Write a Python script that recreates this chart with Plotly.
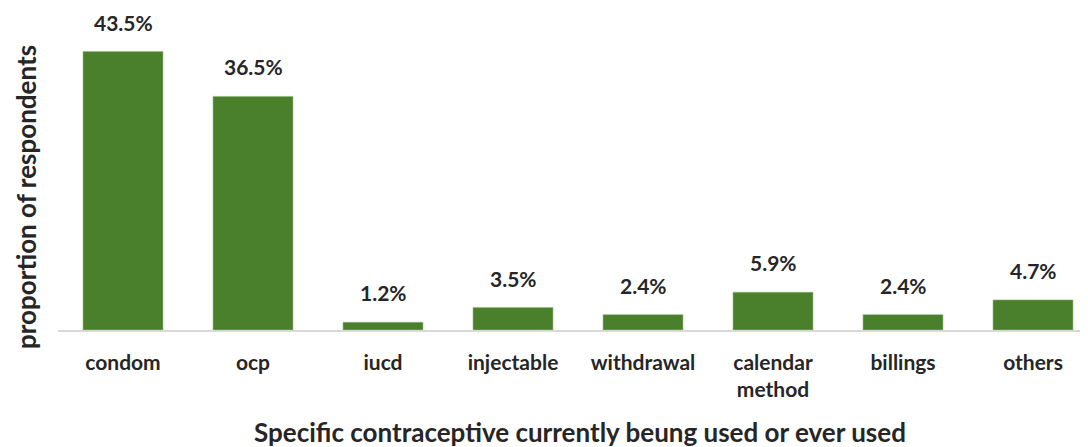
import plotly.graph_objects as go

categories = ["condom", "ocp", "iucd", "injectable", "withdrawal", "calendar<br>method", "billings", "others"]
values = [43.5, 36.5, 1.2, 3.5, 2.4, 5.9, 2.4, 4.7]
labels = ["43.5%", "36.5%", "1.2%", "3.5%", "2.4%", "5.9%", "2.4%", "4.7%"]
x_title = "Specific contraceptive currently beung used or ever used"
y_title = "proportion of respondents"

FONT = "Lato"
TXT = "#262626"

fig = go.Figure()
fig.add_trace(go.Bar(
    x=list(range(len(categories))), y=values,
    marker=dict(color="#4a7f2b", line=dict(color="#8fb57a", width=0.6)),
    width=0.615,
))
for i, (v, t) in enumerate(zip(values, labels)):
    fig.add_annotation(x=i, y=v, text=t, showarrow=False, yanchor="bottom", yshift=15,
                       font=dict(family=FONT, size=21, color=TXT, weight="bold"))

fig.add_annotation(xref="paper", yref="paper", x=0.5, y=0, yanchor="middle", xanchor="center",
                   yshift=-102, xshift=7, text=x_title, showarrow=False,
                   font=dict(family=FONT, size=26, color=TXT, weight="bold"))
fig.add_annotation(xref="paper", yref="paper", x=0, y=0.5, xanchor="center", yanchor="middle",
                   xshift=-32, yshift=-27, text=y_title, showarrow=False, textangle=-90,
                   font=dict(family=FONT, size=26, color=TXT, weight="bold"))

fig.update_layout(
    width=1088, height=447,
    margin=dict(l=50, r=8, t=2, b=125),
    paper_bgcolor="white", plot_bgcolor="white",
    showlegend=False,
    bargap=0.385,
    xaxis=dict(
        tickmode="array", tickvals=list(range(len(categories))), ticktext=categories,
        range=[-0.5, 7.423], showgrid=False, zeroline=False,
        showline=True, linecolor="#d9d9d9", linewidth=1.5,
        ticks="", ticklabelstandoff=13, automargin=False,
        tickfont=dict(family=FONT, size=21, color=TXT, weight="bold"),
    ),
    yaxis=dict(
        range=[0, 50], showgrid=False, zeroline=False, showticklabels=False,
        showline=False, ticks="", automargin=False,
    ),
)
fig.write_html("out.html")
